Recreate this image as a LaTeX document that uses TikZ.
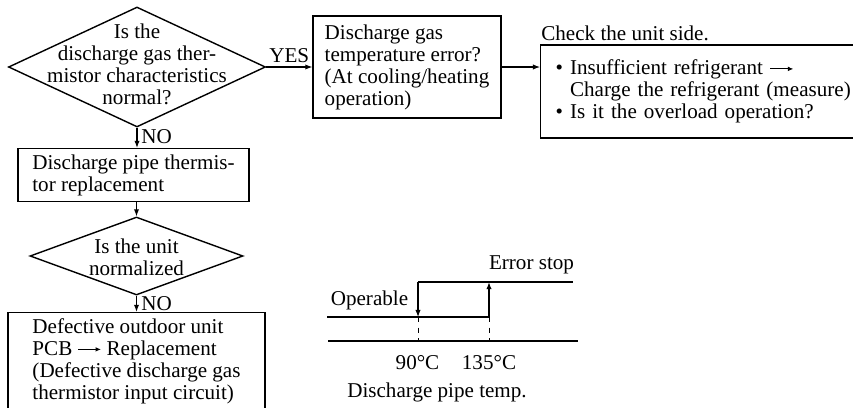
\documentclass[tikz,border=0pt]{standalone}
\usepackage{fontspec}
\setmainfont{Liberation Serif}
\usepackage{tikz}
\usetikzlibrary{positioning, shapes.geometric, arrows.meta}

% small inline arrow used inside the box texts
\newcommand{\rarrow}{\tikz[baseline=-0.6ex]\draw[line width=0.5pt, -{Latex[length=3pt,width=2.6pt]}] (0pt,0pt) -- (13pt,0pt);}

\begin{document}
\begin{tikzpicture}[
    >={Latex[length=4pt,width=3pt]},
    font=\fontsize{12pt}{12.5pt}\selectfont,
    every node/.style={align=center},
    box/.style={draw, line width=0.8pt, align=left},
    decision/.style={draw, diamond, line width=0.8pt, inner sep=0pt},
    plain/.style={inner sep=0pt},
    link/.style={->, line width=0.6pt}
]

\useasboundingbox (0,0) rectangle (17.06,-8.14);

% =================================================
% FLOW CHART
% =================================================

% First check: thermistor
\node[
    decision,
    minimum width=5.14cm,
    minimum height=2.40cm
] (gaschk) at (2.74,-1.34) {};

\node[plain] (gaschk-txt) at ([yshift=0.06cm]gaschk.center)
{Is the\\
discharge gas ther-\\
mistor characteristics\\
normal?};

% Temperature error box
\node[
    box,
    minimum width=3.76cm,
    minimum height=2.04cm
] (gaserr) at (8.14,-1.34)
{Discharge gas\\
temperature error?\\
(At cooling/heating\\
operation)};

% Unit side check
\node[
    plain,
    anchor=west
] (unitchk) at (10.82,-0.66)
{Check the unit side.};

\node[
    box,
    anchor=west,
    text width=6.3cm,
    inner xsep=0.3cm,
    minimum height=1.86cm
] (unitbox) at (10.80,-1.83)
{\textbullet\ Insufficient refrigerant \rarrow\\
\hphantom{\textbullet\ }Charge the refrigerant (measure)\\
\textbullet\ Is it the overload operation?};

% Replacement of thermistor
\node[
    box,
    minimum width=4.62cm,
    minimum height=0.88cm
] (pipe) at (2.67,-3.50)
{Discharge pipe thermis-\\
tor replacement};

% Second check: unit normalized
\node[
    decision,
    minimum width=4.26cm,
    minimum height=1.56cm
] (unitok) at (2.73,-5.12) {};

\node[plain] (unitok-txt) at ([yshift=-0.03cm]unitok.center)
{Is the unit\\
normalized};

% PCB replacement
\node[
    box,
    minimum width=5.14cm,
    minimum height=1.76cm
] (pcb) at (2.73,-7.22)
{Defective outdoor unit\\
PCB \rarrow{} Replacement\\
(Defective discharge gas\\
thermistor input circuit)};

% Connectors
\draw[link] (gaschk.east) -- node[above, inner sep=2pt] (yes) {YES} (gaserr.west);
\draw[link] (gaserr.east) -- (gaserr.east -| unitbox.west);
\draw[link] (gaschk.south) -- (gaschk.south |- pipe.north);
\draw[link] (pipe.south -| unitok.north) -- (unitok.north);
\draw[link] (unitok.south) -- (unitok.south |- pcb.north);

\node[plain, anchor=west] (no1) at (2.82,-2.74) {NO};
\node[plain, anchor=west] (no2) at (2.82,-6.08) {NO};

% =================================================
% TEMPERATURE GRAPH
% =================================================

\coordinate (lowL)  at (6.54,-6.34);
\coordinate (low90) at (8.36,-6.34);
\coordinate (low135) at (9.78,-6.34);
\coordinate (hi90)  at (8.36,-5.64);
\coordinate (hi135) at (9.78,-5.64);
\coordinate (hiR)   at (11.46,-5.64);
\coordinate (axL)   at (6.56,-6.82);
\coordinate (ax90)  at (8.36,-6.82);
\coordinate (ax135) at (9.78,-6.82);
\coordinate (axR)   at (11.56,-6.82);

% Axis
\draw[line width=0.6pt] (axL) -- (axR);

% Operating levels
\draw[line width=1.3pt] (lowL) -- (low135);
\draw[line width=1.3pt] (hi90) -- (hiR);

% Switching
\draw[->, line width=0.6pt] (hi90) -- (low90);
\draw[->, line width=1.1pt] (low135) -- (hi135);

% Marker lines
\draw[dashed, line width=0.5pt] (low90) -- (ax90);
\draw[dashed, line width=0.5pt] (low135) -- (ax135);

% Labels
\node (t90) at (8.35,-7.26) {90°C};
\node (t135) at (9.78,-7.26) {135°C};
\node (temp) at (8.74,-7.85) {Discharge pipe temp.};
\node (oper) at (7.39,-6.00) {Operable};
\node (stop) at (10.63,-5.30) {Error stop};

\end{tikzpicture}
\end{document}
